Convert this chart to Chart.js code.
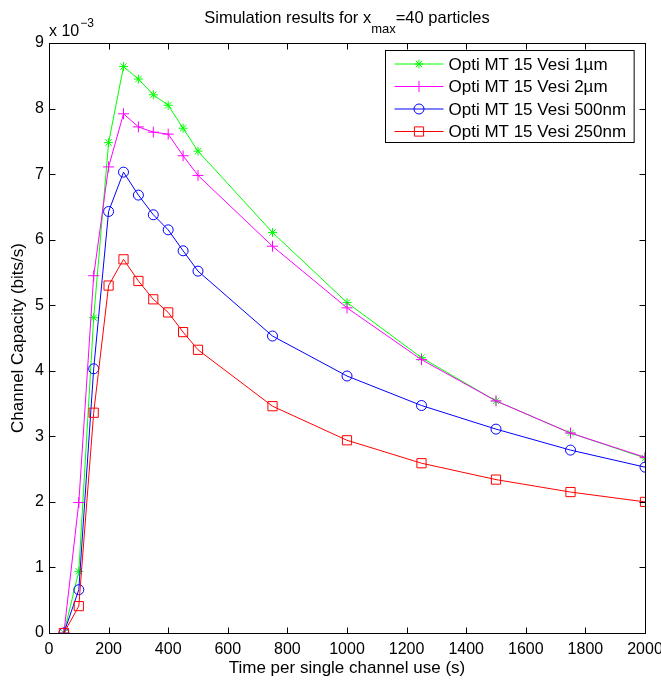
<!DOCTYPE html>
<html>
<head>
<meta charset="utf-8">
<title>Channel capacity</title>
<script src="https://cdn.jsdelivr.net/npm/chart.js@4/dist/chart.umd.min.js"></script>
<style>
  html, body { margin: 0; padding: 0; background: #fff; }
  canvas { display: block; }
</style>
</head>
<body>
<canvas id="chart" width="661" height="681"></canvas>
<script>
// time per single channel use (s)
const times = [50, 100, 150, 200, 250, 300, 350, 400, 450, 500, 750, 1000, 1250, 1500, 1750, 2000];

// channel capacity in units of 1e-3 bits/s
const vesi1um   = [0, 0.94, 4.81, 7.48, 8.64, 8.45, 8.21, 8.05, 7.70, 7.35, 6.11, 5.04, 4.20, 3.54, 3.05, 2.67];
const vesi2um   = [0, 1.99, 5.45, 7.11, 7.92, 7.72, 7.64, 7.61, 7.28, 6.98, 5.90, 4.96, 4.17, 3.54, 3.05, 2.68];
const vesi500nm = [0, 0.66, 4.03, 6.43, 7.03, 6.68, 6.38, 6.15, 5.83, 5.52, 4.53, 3.92, 3.47, 3.11, 2.79, 2.53];
const vesi250nm = [0, 0.41, 3.36, 5.30, 5.70, 5.37, 5.09, 4.89, 4.59, 4.32, 3.46, 2.94, 2.59, 2.34, 2.15, 2.00];

const seriesLabels = ["Opti MT 15 Vesi 1µm", "Opti MT 15 Vesi 2µm", "Opti MT 15 Vesi 500nm", "Opti MT 15 Vesi 250nm"];
const xTicks = [0, 200, 400, 600, 800, 1000, 1200, 1400, 1600, 1800, 2000];
const yTicks = [0, 1, 2, 3, 4, 5, 6, 7, 8, 9];

const FONT = "'Liberation Sans', Arial, Helvetica, sans-serif";
Chart.defaults.font.family = FONT;
Chart.defaults.color = "#000";

const points = (ys) => times.map((t, i) => ({ x: t, y: ys[i] }));

function series(label, ys, color, style, radius, order) {
  return {
    label: label,
    data: points(ys),
    borderColor: color,
    backgroundColor: color,
    borderWidth: 1,
    pointStyle: style,
    pointRadius: radius,
    pointHoverRadius: radius,
    pointBorderColor: color,
    pointBackgroundColor: "rgba(0,0,0,0)",
    pointBorderWidth: 1,
    tension: 0,
    order: order,
  };
}

// box, inward ticks, title, exponent and legend in MATLAB style
const matlabFrame = {
  id: "matlabFrame",
  afterDraw(chart) {
    const { ctx, chartArea: a, scales: { x, y } } = chart;
    ctx.save();
    ctx.strokeStyle = "#000";
    ctx.lineWidth = 1;
    const L = Math.round(a.left) + 0.5, R = Math.round(a.right) + 0.5;
    const T = Math.round(a.top) + 0.5, B = Math.round(a.bottom) + 0.5;
    ctx.strokeRect(L, T, R - L, B - T);

    const tl = 6;
    ctx.beginPath();
    xTicks.forEach((v) => {
      const px = Math.round(x.getPixelForValue(v)) + 0.5;
      ctx.moveTo(px, B); ctx.lineTo(px, B - tl);
      ctx.moveTo(px, T); ctx.lineTo(px, T + tl);
    });
    yTicks.forEach((v) => {
      const py = Math.round(y.getPixelForValue(v)) + 0.5;
      ctx.moveTo(L, py); ctx.lineTo(L + tl, py);
      ctx.moveTo(R, py); ctx.lineTo(R - tl, py);
    });
    ctx.stroke();

    // title with subscript, centred over the axes
    ctx.fillStyle = "#000";
    ctx.textBaseline = "alphabetic";
    ctx.textAlign = "left";
    const big = "16.5px " + FONT, small = "13px " + FONT;
    const p1 = "Simulation results for x", p2 = "max", p3 = "=40 particles";
    ctx.font = big;
    const w1 = ctx.measureText(p1).width, w3 = ctx.measureText(p3).width;
    ctx.font = small;
    const w2 = ctx.measureText(p2).width;
    let tx = (a.left + a.right) / 2 - (w1 + w2 + w3) / 2;
    ctx.font = big; ctx.fillText(p1, tx, 23); tx += w1;
    ctx.font = small; ctx.fillText(p2, tx, 33); tx += w2;
    ctx.font = big; ctx.fillText(p3, tx, 23);

    // y axis exponent
    ctx.font = "16px " + FONT;
    const ex = "x 10";
    ctx.fillText(ex, a.left, 36);
    const ew = ctx.measureText(ex).width;
    ctx.font = "12px " + FONT;
    ctx.fillText("\u22123", a.left + ew + 1, 27);

    // legend
    ctx.font = "17px " + FONT;
    const sets = chart.data.datasets;
    const textW = Math.max(...sets.map((d) => ctx.measureText(d.label).width));
    const boxW = 63 + textW + 8, rowH = 22.5;
    const boxH = sets.length * rowH + 2;
    const bx = Math.round(a.right - 11 - boxW) + 0.5, by = Math.round(a.top + 7) + 0.5;
    ctx.fillStyle = "#fff";
    ctx.fillRect(bx, by, boxW, boxH);
    ctx.strokeStyle = "#000";
    ctx.strokeRect(bx, by, boxW, boxH);
    sets.forEach((d, i) => {
      const cy = by + 13.5 + i * rowH;
      ctx.strokeStyle = d.borderColor;
      ctx.lineWidth = 1;
      ctx.beginPath();
      ctx.moveTo(bx + 9, cy); ctx.lineTo(bx + 58, cy);
      ctx.stroke();
      ctx.fillStyle = "rgba(0,0,0,0)";
      Chart.helpers.drawPoint(ctx, { pointStyle: d.pointStyle, radius: d.pointRadius, rotation: 0, borderWidth: 1 }, bx + 33.5, cy);
      ctx.fillStyle = "#000";
      ctx.textBaseline = "middle";
      ctx.fillText(d.label, bx + 63, cy + 1);
    });
    ctx.restore();
  },
};

new Chart(document.getElementById("chart"), {
  type: "line",
  data: {
    datasets: [
      series(seriesLabels[0], vesi1um, "#00ff00", "star", 4.5, 4),
      series(seriesLabels[1], vesi2um, "#ff00ff", "cross", 5.5, 3),
      series(seriesLabels[2], vesi500nm, "#0000ff", "circle", 5, 2),
      series(seriesLabels[3], vesi250nm, "#ff0000", "rect", 6.5, 1),
    ],
  },
  options: {
    responsive: false,
    animation: false,
    events: [],
    layout: { padding: { top: 43, right: 16, left: 0, bottom: 0 } },
    plugins: {
      legend: { display: false },
      title: { display: false },
      tooltip: { enabled: false },
    },
    scales: {
      x: {
        type: "linear",
        min: 0,
        max: 2000,
        afterBuildTicks: (scale) => { scale.ticks = xTicks.map((v) => ({ value: v })); },
        afterFit: (scale) => { scale.height = 48; scale.paddingLeft = 0; scale.paddingRight = 0; },
        grid: { display: false, drawTicks: false },
        border: { display: false },
        ticks: { font: { size: 16 }, padding: 7, maxRotation: 0, autoSkip: false, callback: (v) => String(v) },
        title: {
          display: true,
          text: "Time per single channel use (s)",
          font: { size: 17 },
          padding: { top: 0, bottom: 2 },
        },
      },
      y: {
        min: 0,
        max: 9,
        afterBuildTicks: (scale) => { scale.ticks = yTicks.map((v) => ({ value: v })); },
        afterFit: (scale) => { scale.width = 49; scale.paddingTop = 0; scale.paddingBottom = 0; },
        grid: { display: false, drawTicks: false },
        border: { display: false },
        ticks: { font: { size: 16 }, padding: 5, autoSkip: false, callback: (v) => String(v) },
        title: {
          display: true,
          text: "Channel Capacity (bits/s)",
          font: { size: 17 },
          padding: { top: 8, bottom: 0 },
        },
      },
    },
  },
  plugins: [matlabFrame],
});
</script>
</body>
</html>
